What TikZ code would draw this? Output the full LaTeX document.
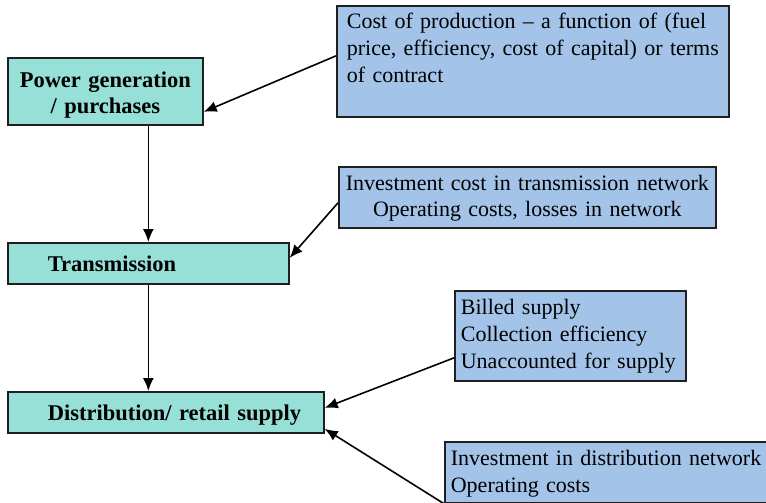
\documentclass[tikz,border=0pt]{standalone}
\usepackage{fontspec}
\setmainfont{Liberation Serif}
\usetikzlibrary{arrows.meta,calc}
\definecolor{tealfill}{RGB}{150,224,216}
\definecolor{bluefill}{RGB}{163,196,232}
\begin{document}
\begin{tikzpicture}[x=1pt,y=-1pt,
  box/.style={draw=black!88, line width=1.7pt, inner xsep=0pt, inner ysep=0pt,
    anchor=north west, font=\fontsize{22}{27}\selectfont},
  gen/.style={box, fill=tealfill, font=\bfseries\fontsize{22.5}{26}\selectfont},
  info/.style={box, fill=bluefill},
  arr/.style={-{Latex[length=13pt,width=11pt]}, line width=1.6pt}]
\clip (0,0) rectangle (766,503);
\fill[white] (0,0) rectangle (766,503);

\node[gen, text width=195pt, align=center, text height=30pt, text depth=37pt]
  (power) at (7,57) {Power generation\\/ purchases};
\node[gen, text width=281pt, align=left, text height=29pt, text depth=12pt]
  (trans) at (7,242) {\hspace*{40pt}Transmission};
\node[gen, text width=316pt, align=left, text height=29pt, text depth=12pt]
  (dist) at (7,391) {\hspace*{40pt}Distribution/ retail supply};

\node[info, text width=372pt, inner xsep=10pt, align=left, text height=23pt, text depth=88pt]
  (cost) at (336,5) {\mbox{Cost of production – a function of (fuel}\\\mbox{price, efficiency, cost of capital) or terms}\\\mbox{of contract}};
\node[info, text width=377pt, align=center, text height=24pt, text depth=37pt,
  font=\fontsize{22}{26}\selectfont]
  (invtrans) at (338,166) {\mbox{Investment cost in transmission network}\\\mbox{Operating costs, losses in network}};
\node[info, text width=219pt, inner xsep=6pt, align=left, text height=24pt, text depth=66pt]
  (billed) at (454,290) {\mbox{Billed supply}\\\mbox{Collection efficiency}\\\mbox{Unaccounted for supply}};
\node[info, text width=330pt, inner xsep=6pt, align=left, text height=24pt, text depth=37pt]
  (invdist) at (444,441) {\mbox{Investment in distribution network}\\\mbox{Operating costs}};

\draw[arr] ([yshift=5.5pt]cost.west) -- ([yshift=-20.5pt]power.east);
\draw[arr] ([yshift=-5.5pt]invtrans.west) -- ([yshift=5.5pt]trans.east);
\draw[arr] ([yshift=-22pt]billed.west) -- ([yshift=4.5pt]dist.east);
\draw[arr] (invdist.south west) -- ([yshift=-16.5pt]dist.east);
\draw[arr] (power.south -| trans.north) -- (trans.north);
\draw[arr] (trans.south) -- (trans.south |- dist.north);
\end{tikzpicture}
\end{document}
